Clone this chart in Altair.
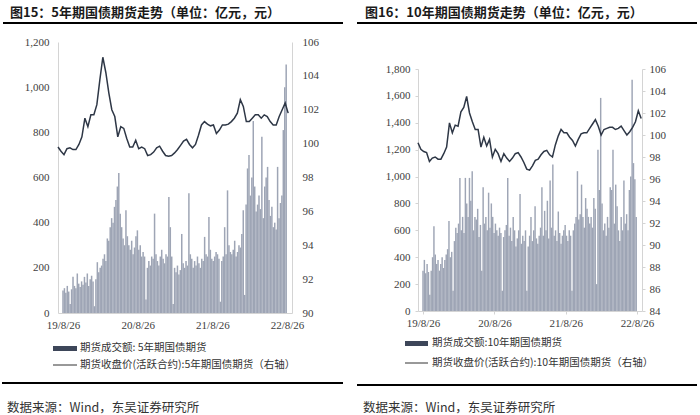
import altair as alt
import pandas as pd

# ---------------- data ----------------
# 5-year futures: weekly turnover (亿元), from 2019-08-26
left_bar_vals = [
    100, 110, 90, 120, 95,
    40,
    105, 160, 120, 110, 175, 130, 115, 140, 125, 160, 135, 175, 120, 150, 165, 140,
    30,
    150, 225, 180, 200, 210, 240, 260, 230, 330, 320, 380, 420, 400, 470, 500, 560, 620, 440, 380, 330, 300,
    455, 340, 300, 280, 320, 260, 290, 340, 366, 280, 300, 250, 270, 250,
    60,
    200, 230, 210, 250, 240, 440, 260, 230, 210, 250, 280, 240, 220, 260, 250, 514, 380, 250,
    40,
    200, 180, 210, 170, 190, 350, 220, 200, 230, 210, 530, 260, 240, 200, 230, 210, 250, 220, 200, 240,
    230, 337, 260, 250, 425, 280, 240, 230, 250, 270, 260, 240,
    50,
    230, 250, 380, 260, 543, 300, 270, 260, 280, 320, 250, 270, 300, 290, 350, 455,
    80,
    480, 640, 700, 520, 600, 850, 560, 450, 480, 520, 460, 780, 420, 560, 600, 647, 500, 430, 470, 380,
    400, 370, 647, 420, 487, 520, 810, 1000, 1100,
]
# 5-year futures: close price (元), every two weeks from 2019-08-26
left_line_vals = [
    99.8, 99.55, 99.35, 99.7, 99.75, 99.65, 99.65, 99.95, 100.4, 101.5,
    101.0, 101.7, 101.7, 102.3, 103.76, 105.1, 104.2, 103.0, 102.0, 101.6,
    100.4, 101.0, 100.9, 100.3, 99.8, 99.8, 100.2, 99.7, 99.8, 99.7,
    99.3, 99.35, 99.5, 99.75, 99.85, 99.55, 99.3, 99.25, 99.3, 99.45,
    99.65, 99.9, 100.15, 100.25, 99.95, 99.75, 99.95, 100.5, 101.1, 101.3,
    101.15, 101.05, 101.1, 100.6, 100.8, 101.1, 101.1, 101.15, 101.3, 101.5,
    101.8, 102.6, 102.2, 101.3, 101.3, 101.5, 101.7, 101.7, 101.5, 101.7,
    101.6, 101.3, 101.1, 101.1, 101.6, 102.0, 102.4, 101.8,
]
# 10-year futures: weekly turnover (亿元), from 2019-08-26
right_bar_vals = [
    300, 380, 280, 350, 290, 120, 300,
    400, 630, 420, 350, 380, 300, 350, 400, 320, 380, 420, 460, 670, 400, 440,
    150,
    520, 620, 580, 650, 990, 600, 700, 580, 990, 800, 700, 990, 820, 1040,
    600, 700, 680, 760, 550, 640,
    300,
    920, 650, 700, 600, 880, 620, 800, 700, 580, 650, 600, 560, 620, 580,
    150,
    550, 600, 640, 990, 560, 620, 520, 700, 600, 480, 540, 600, 870, 500, 560, 520, 600,
    150,
    480, 560, 700, 520, 600, 780, 540, 500, 560, 620, 920,
    560, 745, 600, 820, 540, 970, 620, 1090, 560, 600, 520, 740, 580, 500, 560, 600, 640, 560, 520, 600, 560,
    150,
    600, 650, 700, 1040, 680, 720, 940, 700, 620, 840, 760, 700, 650, 700, 620, 840, 760,
    200,
    1200, 900, 1585, 800, 600, 650, 560, 700, 620, 920, 900, 1200, 650, 940, 780, 600, 520, 700, 600, 970,
    650, 720, 600, 900, 1000, 1720, 1100, 980, 700,
]
# 10-year futures: close price (元), every two weeks from 2019-08-26
right_line_vals = [
    99.3, 98.7, 98.5, 98.4, 97.6, 97.9, 98.0, 97.8, 97.8, 98.3,
    98.9, 101.1, 100.2, 100.9, 100.8, 102.1, 102.5, 103.5, 102.0, 101.2,
    100.5, 100.5, 98.9, 99.8, 99.0, 99.6, 98.0, 98.7, 98.3, 97.6,
    98.3, 97.9, 97.6, 97.9, 98.3, 98.4, 98.0, 97.5, 96.9, 96.8,
    97.2, 97.7, 97.8, 98.2, 98.5, 98.6, 98.2, 98.0, 99.1, 99.9,
    100.5, 100.2, 100.2, 99.8, 99.5, 99.0, 99.6, 100.1, 100.2, 100.2,
    100.6, 101.0, 101.4, 100.8, 100.0, 100.5, 100.6, 100.7, 100.7, 100.5,
    100.6, 100.8, 100.4, 100.0, 100.3, 100.7, 101.2, 102.2, 101.5,
]

left_vol_ticks = [0, 200, 400, 600, 800, 1000, 1200]
left_px_ticks = [90, 92, 94, 96, 98, 100, 102, 104, 106]
right_vol_ticks = [0, 200, 400, 600, 800, 1000, 1200, 1400, 1600, 1800]
right_px_ticks = [84, 86, 88, 90, 92, 94, 96, 98, 100, 102, 104, 106]
date_ticks = [(2019, 8, 26), (2020, 8, 26), (2021, 8, 26), (2022, 8, 26)]

title_left = "图15：5年期国债期货走势（单位：亿元，元）"
title_right = "图16：10年期国债期货走势（单位：亿元，元）"
leg_left = ["期货成交额: 5年期国债期货", "期货收盘价(活跃合约):5年期国债期货（右轴）"]
leg_right = ["期货成交额:10年期国债期货", "期货收盘价(活跃合约):10年期国债期货（右轴）"]
source = "数据来源：Wind，东吴证券研究所"

# ---------------- frames ----------------
START = "2019-08-26"
df_lb = pd.DataFrame({"date": pd.date_range(START, periods=len(left_bar_vals), freq="7D"), "v": left_bar_vals})
df_ll = pd.DataFrame({"date": pd.date_range(START, periods=len(left_line_vals), freq="14D"), "v": left_line_vals})
df_rb = pd.DataFrame({"date": pd.date_range(START, periods=len(right_bar_vals), freq="7D"), "v": right_bar_vals})
df_rl = pd.DataFrame({"date": pd.date_range(START, periods=len(right_line_vals), freq="14D"), "v": right_line_vals})

W, H = 700, 415
BAR_C = "#9ea5b5"
LINE_C = "#2e3746"
AX_C = "#d4d4d4"
LAB_C = "#404040"
SERIF = "Liberation Serif"
CJK = "Noto Sans CJK SC"

dom_dates = [alt.DateTime(year=2019, month=8, date=26), alt.DateTime(year=2022, month=8, date=26)]
tick_dates = [alt.DateTime(year=y, month=m, date=d) for (y, m, d) in date_ticks]


def ax(**kw):
    base = dict(grid=False, title=None, domainColor=AX_C, labelFont=SERIF, labelFontSize=11,
                labelColor=LAB_C, tickColor=AX_C)
    base.update(kw)
    return alt.Axis(**base)


# panel geometry (pixel ranges inside the 700x415 view)
L_X = [58, 292]
L_Y = [313, 42]
R_X = [418, 642]
R_Y = [311, 69]

left_bars = alt.Chart(df_lb).mark_bar(size=1.5, color=BAR_C).encode(
    x=alt.X("date:T", scale=alt.Scale(domain=dom_dates, range=L_X),
            axis=ax(orient="bottom", offset=-(H - L_Y[0]), values=tick_dates, format="%y/%-m/%d",
                    ticks=False, labelPadding=6)),
    y=alt.Y("v:Q", scale=alt.Scale(domain=[0, 1200], range=L_Y, nice=False),
            axis=ax(orient="left", offset=-L_X[0], values=left_vol_ticks, format=",d", ticks=False,
                    labelPadding=9)),
)
left_line = alt.Chart(df_ll).mark_line(color=LINE_C, strokeWidth=1.5).encode(
    x=alt.X("date:T", scale=alt.Scale(domain=dom_dates, range=L_X), axis=None),
    y=alt.Y("v:Q", scale=alt.Scale(domain=[90, 106], range=L_Y, nice=False, zero=False),
            axis=ax(orient="right", offset=-(W - L_X[1]), values=left_px_ticks, ticks=False,
                    labelPadding=10)),
)
right_bars = alt.Chart(df_rb).mark_bar(size=1.45, color=BAR_C).encode(
    x=alt.X("date:T", scale=alt.Scale(domain=dom_dates, range=R_X),
            axis=ax(orient="bottom", offset=-(H - R_Y[0]), values=tick_dates, format="%y/%-m/%d",
                    ticks=True, tickSize=3, labelPadding=3)),
    y=alt.Y("v:Q", scale=alt.Scale(domain=[0, 1800], range=R_Y, nice=False),
            axis=ax(orient="left", offset=-R_X[0], values=right_vol_ticks, format=",d", ticks=True,
                    tickSize=3, labelPadding=5)),
)
right_line = alt.Chart(df_rl).mark_line(color=LINE_C, strokeWidth=1.5).encode(
    x=alt.X("date:T", scale=alt.Scale(domain=dom_dates, range=R_X), axis=None),
    y=alt.Y("v:Q", scale=alt.Scale(domain=[84, 106], range=R_Y, nice=False, zero=False),
            axis=ax(orient="right", offset=-(W - R_X[1]), values=right_px_ticks, ticks=True,
                    tickSize=3, labelPadding=4)),
)

one = pd.DataFrame({"a": [0]})


def txt(s, x, y, size, weight="normal", color="#333333", font=CJK):
    return alt.Chart(one).mark_text(align="left", baseline="middle", font=font, fontSize=size,
                                    fontWeight=weight, color=color).encode(
        x=alt.value(x), y=alt.value(y), text=alt.value(s))


def hline(x1, x2, y, w=2, color="#000000"):
    return alt.Chart(one).mark_rule(color=color, strokeWidth=w).encode(
        x=alt.value(x1), x2=alt.value(x2), y=alt.value(y))


def swatch(x1, x2, y1, y2, color):
    return alt.Chart(one).mark_rect(color=color).encode(
        x=alt.value(x1), x2=alt.value(x2), y=alt.value(y1), y2=alt.value(y2))


deco = [
    txt(title_left, 10, 13, 13, "bold", "#1a1a1a"),
    txt(title_right, 365, 13, 13, "bold", "#1a1a1a"),
    hline(3, 343, 23),
    hline(357, 697, 23),
    swatch(53, 77, 346, 351, "#3d4659"),
    txt(leg_left[0], 80, 348, 10.5),
    hline(53, 77, 365, 1, "#333333"),
    txt(leg_left[1], 80, 365, 10.5),
    swatch(405, 428, 341, 346, "#3d4659"),
    txt(leg_right[0], 432, 343, 10.5),
    hline(405, 428, 363, 1, "#333333"),
    txt(leg_right[1], 432, 363, 10.5),
    hline(2, 343, 383),
    hline(357, 697, 385),
    txt(source, 7, 408, 12.5),
    txt(source, 363, 408, 12.5),
]

chart = alt.layer(left_bars, left_line, right_bars, right_line, *deco).resolve_scale(
    x="independent", y="independent"
).properties(
    width=W, height=H, autosize=alt.AutoSizeParams(type="none"), padding=0,
    background="white",
).configure_view(stroke=None)

chart.save("out.html", embed_options={"renderer": "svg", "actions": False})
